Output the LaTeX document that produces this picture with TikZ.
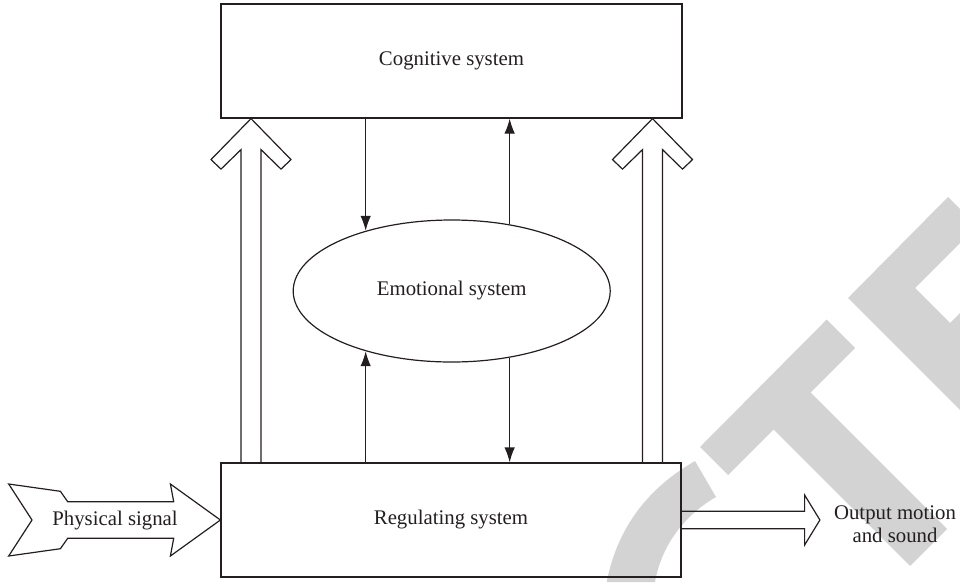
\documentclass[tikz,border=0pt]{standalone}
\usepackage{fontspec}
\setmainfont{Liberation Serif}
\usetikzlibrary{arrows.meta,calc,shapes.geometric}
\definecolor{ink}{RGB}{35,31,32}
\definecolor{wm}{RGB}{211,211,211}
\begin{document}
\begin{tikzpicture}[x=1pt,y=-1pt,
  every node/.style={font=\fontsize{20.8}{23}\selectfont, text=ink},
  boxnode/.style={draw=ink, line width=1.2pt, rectangle, inner sep=0pt},
  ellnode/.style={draw=ink, line width=1.2pt, ellipse, inner sep=0pt},
  arr/.style={draw=ink, line width=1.2pt, -{Latex[length=15pt,width=10.5pt]}},
  fat/.style={draw=ink, line width=1.2pt, line join=miter},
  wmfill/.style={fill=wm, draw=none}]
\useasboundingbox (0,0) rectangle (960,582);
% watermark
\begin{scope}
\clip (0,0) rectangle (960,582);
\fill[wmfill] (606.7,582) .. controls (618,525) and (650,487) .. (695,461) -- (716,497) .. controls (688,513) and (662,542) .. (655,582) -- cycle;
\fill[wmfill] (700,447) -- (826.7,319.5) -- (855,348) -- (810.5,392.5) -- (947,529) -- (910,566) -- (773.5,429.5) -- (728,475) -- cycle;
\fill[wmfill] (948,197) -- (848,298) -- (1000,450) -- (1000,273) -- (950,323) -- (915,288) -- (977,226) -- cycle;
\end{scope}
% nodes
\node[boxnode, minimum width=461pt, minimum height=114pt] (cog) at (451.5,61) {Cognitive system};
\node[boxnode, minimum width=460pt, minimum height=114pt] (reg) at (451,520) {Regulating system};
\node[ellnode, minimum width=317pt, minimum height=142pt] (emo) at (451.7,291) {Emotional system};
\node (phys) at (115,521) {Physical signal};
\node[align=center] (out) at (895,524) {Output motion\\and sound};
% thin arrows
\draw[arr] (cog.south -| emo.145) -- (emo.145);
\draw[arr] (emo.49) -- (cog.south -| emo.49);
\draw[arr] (reg.north -| emo.215) -- (emo.215);
\draw[arr] (emo.-49) -- (reg.north -| emo.-49);
% fat up arrows
\path (251,0) coordinate (la) (652.5,0) coordinate (ra);
\foreach \c in {la,ra}{
\draw[fat] ($(\c |- reg.north)+(-10,0)$) -- ($(\c |- cog.south)+(-10,31)$) -- ($(\c |- cog.south)+(-30,50.5)$) -- ($(\c |- cog.south)+(-40,41)$) -- (\c |- cog.south) -- ($(\c |- cog.south)+(40,41)$) -- ($(\c |- cog.south)+(30,50.5)$) -- ($(\c |- cog.south)+(10,31)$) -- ($(\c |- reg.north)+(10,0)$);
}
% input arrow
\draw[fat] (reg.west) -- ($(reg.west)+(-50,-36)$) -- ($(reg.west)+(-46.7,-18.3)$) -- ($(reg.west)+(-152.7,-18.3)$) -- ($(reg.west)+(-160,-28.7)$) -- ($(reg.west)+(-211.7,-36)$) -- ($(reg.west)+(-188.4,0)$) -- ($(reg.west)+(-211.7,36)$) -- ($(reg.west)+(-160,28.7)$) -- ($(reg.west)+(-152.7,18.3)$) -- ($(reg.west)+(-46.7,18.3)$) -- ($(reg.west)+(-50,36)$) -- cycle;
% output arrow
\draw[fat] ($(reg.east)+(0,-8.8)$) -- ($(reg.east)+(123,-8.8)$) -- ($(reg.east)+(123,-25)$) -- ($(reg.east)+(138.3,0)$) -- ($(reg.east)+(123,25)$) -- ($(reg.east)+(123,8.8)$) -- ($(reg.east)+(0,8.8)$);
\end{tikzpicture}
\end{document}
